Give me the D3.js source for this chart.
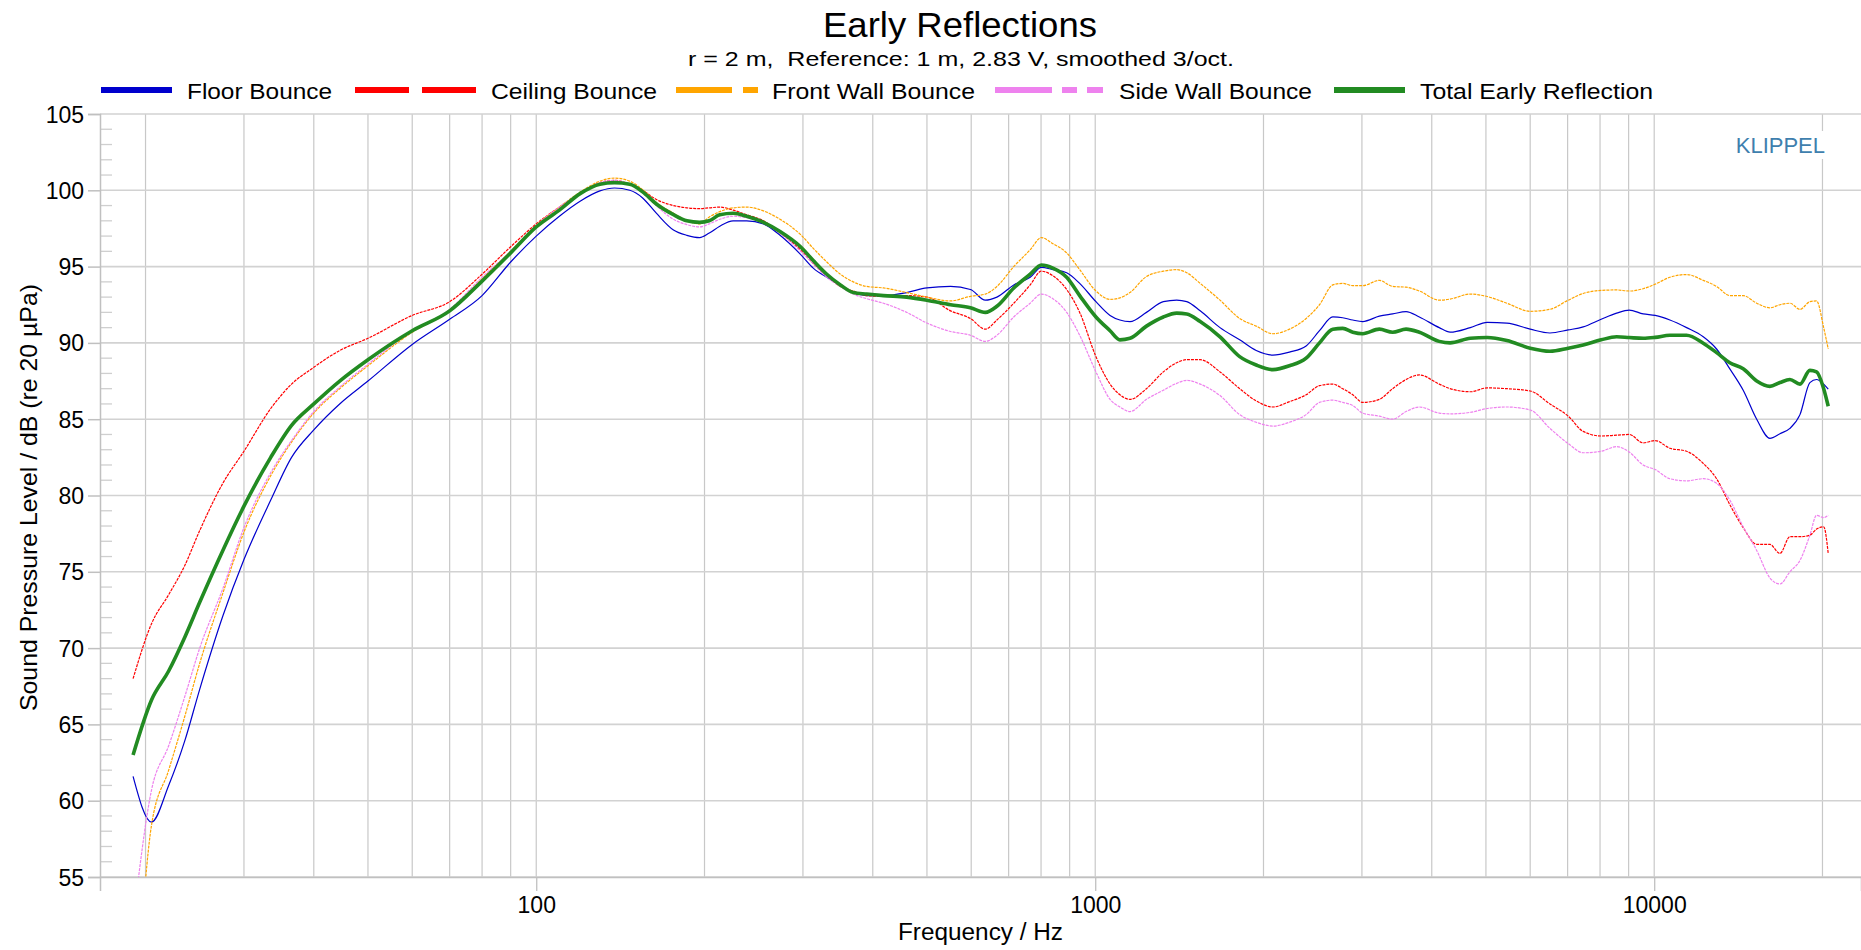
<!DOCTYPE html>
<html><head><meta charset="utf-8">
<script src="https://cdn.jsdelivr.net/npm/d3@7"></script>
<style>
html,body{margin:0;padding:0;background:#fff;}
svg{display:block;}
text{font-family:"Liberation Sans",Arial,Helvetica,sans-serif;fill:#000;}
</style>
</head><body>
<svg id="chart" width="1861" height="950"></svg>
<script>
// ---------- DATA ----------
const frequencies = [
  19, 20.5, 22, 23.5, 25, 27.5, 30, 33.5, 36.5, 40, 44.5, 50, 60, 70, 80, 90, 100,
  110, 120, 130, 138, 147, 155, 164, 176, 186, 196, 204, 213, 225, 238, 255, 273, 297, 313, 331, 350, 369, 390, 418, 460, 500, 551, 598, 636, 667, 715, 765,
  801, 840, 889, 938, 1003, 1063, 1107, 1154, 1235, 1324, 1399, 1458, 1541, 1672, 1813, 1941, 2079, 2226, 2384, 2519, 2661, 2772, 2889, 3010, 3223, 3405, 3598, 3801,
  4125, 4314, 4688, 5026, 5451, 6000, 6508, 7018, 7464, 8038, 8565, 9022, 9557, 10041, 10668, 11428, 12240, 12930, 13655, 14428, 15254, 16106, 16785, 17490, 18230, 18990, 19520, 20100, 20480
];
const floorBounce = [
  61.6, 58.6, 61.0, 63.9, 67.3, 72.1, 75.8, 79.7, 82.5, 84.3, 86.0, 87.5, 89.9, 91.55, 93.1, 95.3, 97.0,
  98.3, 99.3, 99.96, 100.15, 100.0, 99.5, 98.5, 97.4, 97.05, 96.9, 97.2, 97.65, 98.0, 98.0, 97.8, 97.05, 95.8, 94.9, 94.3, 93.8, 93.3, 93.1, 93.1, 93.3, 93.6, 93.7, 93.5, 92.8, 93.0, 93.8, 94.3,
  94.95, 94.8, 94.6, 93.9, 92.7, 91.8, 91.5, 91.4, 92.0, 92.7, 92.8, 92.7, 92.1, 91.0, 90.2, 89.5, 89.2, 89.4, 89.8, 90.8, 91.7, 91.65, 91.5, 91.4, 91.75, 91.9, 92.05, 91.7,
  91.0, 90.7, 91.0, 91.35, 91.3, 90.9, 90.65, 90.85, 91.05, 91.55, 91.95, 92.15, 91.9, 91.8, 91.5, 91.0, 90.4, 89.6, 88.3, 86.9, 85.0, 83.75, 84.05, 84.4, 85.3, 87.4, 87.6, 87.3, 86.97
];
const ceilingBounce = [
  68.0, 71.6, 73.5, 75.4, 77.7, 80.8, 82.9, 85.7, 87.3, 88.4, 89.5, 90.3, 91.8, 92.7, 94.5, 96.3, 97.8,
  98.9, 99.8, 100.5, 100.65, 100.4, 100.0, 99.4, 99.0, 98.85, 98.8, 98.85, 98.9, 98.7, 98.4, 98.0, 97.2, 96.1, 95.2, 94.4, 93.7, 93.4, 93.1, 93.05, 93.1, 93.0, 92.1, 91.6, 90.9, 91.5, 92.6, 93.8,
  94.7, 94.4, 93.5, 92.0, 89.1, 87.3, 86.6, 86.3, 87.0, 88.1, 88.7, 88.9, 88.9, 88.1, 87.0, 86.2, 85.8, 86.15, 86.6, 87.2, 87.3, 87.0, 86.6, 86.1, 86.3, 87.0, 87.6, 87.9,
  87.3, 87.0, 86.8, 87.05, 87.0, 86.85, 86.0, 85.2, 84.2, 83.9, 83.95, 84.0, 83.45, 83.6, 83.1, 82.9, 82.1, 81.1, 79.4, 77.9, 76.8, 76.8, 76.2, 77.3, 77.3, 77.4, 77.8, 77.95, 76.2
];
const frontWallBounce = [
  43.0, 58.4, 62.0, 65.5, 69.0, 73.6, 77.6, 81.3, 83.5, 85.4, 87.0, 88.5, 90.7, 92.1, 94.2, 96.0, 97.7,
  98.9, 99.9, 100.6, 100.8, 100.6, 100.04, 99.2, 98.5, 98.0, 97.8, 98.25, 98.6, 98.85, 98.9, 98.65, 98.1, 97.1, 96.2, 95.3, 94.5, 94.0, 93.7, 93.6, 93.3, 93.0, 92.75, 93.05, 93.2, 93.7, 95.0, 96.1,
  96.9, 96.5, 95.9, 94.8, 93.4, 92.85, 92.95, 93.3, 94.35, 94.7, 94.8, 94.6, 93.9, 92.8, 91.6, 91.1, 90.6, 90.9, 91.6, 92.5, 93.8, 93.9, 93.75, 93.75, 94.1, 93.7, 93.65, 93.4,
  92.8, 92.87, 93.2, 93.04, 92.6, 92.07, 92.2, 92.8, 93.24, 93.44, 93.47, 93.4, 93.55, 93.85, 94.3, 94.48, 94.1, 93.7, 93.1, 93.1, 92.6, 92.3, 92.5, 92.6, 92.2, 92.7, 92.75, 91.0, 89.6
];
const sideWallBounce = [
  52.0, 60.7, 63.6, 66.8, 70.0, 73.9, 77.9, 81.5, 83.6, 85.5, 87.1, 88.6, 90.8, 92.2, 94.3, 96.0, 97.7,
  98.9, 99.8, 100.5, 100.65, 100.4, 99.96, 99.0, 98.1, 97.75, 97.6, 97.8, 98.1, 98.3, 98.2, 97.85, 97.2, 96.0, 95.2, 94.3, 93.7, 93.2, 92.9, 92.6, 92.0, 91.3, 90.75, 90.5, 90.1, 90.5, 91.7, 92.6,
  93.2, 92.9, 92.0, 90.5, 88.1, 86.3, 85.8, 85.5, 86.3, 86.9, 87.35, 87.55, 87.3, 86.55, 85.3, 84.8, 84.55, 84.8, 85.3, 86.1, 86.25, 86.1, 85.9, 85.4, 85.2, 85.0, 85.5, 85.8,
  85.4, 85.35, 85.45, 85.7, 85.8, 85.6, 84.4, 83.4, 82.8, 82.9, 83.2, 82.85, 82.0, 81.7, 81.1, 80.96, 81.1, 80.8, 79.7, 77.95, 76.4, 74.6, 74.2, 75.0, 75.75, 77.4, 78.7, 78.55, 78.7
];
const totalEarlyReflection = [
  63.0, 66.6, 68.5, 70.7, 73.0, 76.4, 79.3, 82.5, 84.6, 86.0, 87.5, 88.9, 90.8, 92.1, 94.05, 95.9, 97.6,
  98.7, 99.8, 100.4, 100.5, 100.4, 99.9, 99.1, 98.4, 98.0, 97.9, 98.0, 98.4, 98.5, 98.3, 97.9, 97.3, 96.3, 95.4, 94.5, 93.8, 93.3, 93.2, 93.1, 93.0, 92.8, 92.5, 92.3, 92.0, 92.4, 93.6, 94.5,
  95.1, 94.9, 94.3, 93.1, 91.7, 90.8, 90.2, 90.3, 91.1, 91.7, 91.95, 91.9, 91.4, 90.4, 89.1, 88.55, 88.25, 88.5, 89.0, 90.0, 90.9, 90.95, 90.7, 90.6, 90.9, 90.7, 90.9, 90.7,
  90.1, 90.0, 90.3, 90.35, 90.15, 89.65, 89.45, 89.65, 89.86, 90.2, 90.4, 90.35, 90.3, 90.36, 90.5, 90.5, 89.98, 89.36, 88.7, 88.3, 87.5, 87.15, 87.4, 87.6, 87.3, 88.2, 88.1, 87.0, 85.85
];
const seriesNames = ["Floor Bounce", "Ceiling Bounce", "Front Wall Bounce", "Side Wall Bounce", "Total Early Reflection"];
const yTickValues = [55, 60, 65, 70, 75, 80, 85, 90, 95, 100, 105];
const xTickLabels = [100, 1000, 10000];
const titleText = "Early Reflections";
const subtitleText = "r = 2 m,  Reference: 1 m, 2.83 V, smoothed 3/oct.";
const xAxisTitle = "Frequency / Hz";
const yAxisTitle = "Sound Pressure Level / dB (re 20 \u00B5Pa)";
const watermark = "KLIPPEL";

// ---------- LAYOUT / STYLE ----------
const W = 1861, H = 950;
const plot = {left: 100, right: 1861, top: 114, bottom: 877};
const svg = d3.select("#chart");

const x = d3.scaleLog().domain([16.58, 23440]).range([plot.left, plot.right]);
const y = d3.scaleLinear().domain([55, 105]).range([plot.bottom, plot.top]);

const styles = [
  {color: "#0000CD", width: 1.2, dash: null},
  {color: "#FF0000", width: 1.2, dash: "3,1"},
  {color: "#FFA500", width: 1.2, dash: "3,1"},
  {color: "#EE82EE", width: 1.2, dash: "3,1"},
  {color: "#228B22", width: 3.6, dash: null}
];
const seriesValues = [floorBounce, ceilingBounce, frontWallBounce, sideWallBounce, totalEarlyReflection];

// grid: vertical
const gridG = svg.append("g");
const vLines = [];
for (const d of [10, 100, 1000, 10000]) for (let m = 1; m <= 9; m++) {
  const f = m * d; if (f > x.domain()[0] && f < x.domain()[1]) vLines.push(f);
}
gridG.selectAll("line.v").data(vLines).join("line")
  .attr("x1", d => x(d)).attr("x2", d => x(d))
  .attr("y1", plot.top).attr("y2", plot.bottom)
  .attr("stroke", "#c8c8c8").attr("stroke-width", 1.2);
// horizontal
gridG.selectAll("line.h").data(yTickValues).join("line")
  .attr("x1", plot.left).attr("x2", plot.right)
  .attr("y1", d => y(d)).attr("y2", d => y(d))
  .attr("stroke", "#d2d2d2").attr("stroke-width", 1.6);
// y minor ticks
const minorY = d3.range(56, 105).filter(v => v % 5 !== 0);
gridG.selectAll("line.m").data(minorY).join("line")
  .attr("x1", plot.left).attr("x2", plot.left + 12)
  .attr("y1", d => y(d)).attr("y2", d => y(d))
  .attr("stroke", "#cfcfcf").attr("stroke-width", 1.3);

// axes with d3
const yAxis = d3.axisLeft(y).tickValues(yTickValues).tickSize(12).tickPadding(4);
const yG = svg.append("g").attr("transform", `translate(${plot.left},0)`).call(yAxis);
yG.select(".domain").attr("stroke", "#c0c0c0").attr("stroke-width", 1.5);
yG.selectAll(".tick line").attr("stroke", "#c0c0c0").attr("stroke-width", 1.5);
yG.selectAll(".tick text").attr("font-size", 23).attr("fill", "#000")
  .attr("font-family", "'Liberation Sans', Arial, sans-serif").attr("dy", "0.35em");

const xAxis = d3.axisBottom(x).tickValues(xTickLabels).tickFormat(d3.format("d")).tickSize(14).tickPadding(6);
const xG = svg.append("g").attr("transform", `translate(0,${plot.bottom})`).call(xAxis);
xG.select(".domain").attr("stroke", "#c0c0c0").attr("stroke-width", 1.5);
xG.selectAll(".tick line").attr("stroke", "#c0c0c0").attr("stroke-width", 1.3);
xG.selectAll(".tick text").attr("font-size", 23).attr("fill", "#000")
  .attr("font-family", "'Liberation Sans', Arial, sans-serif").attr("dy", "0.71em");

// watermark
svg.append("rect").attr("x", 1728).attr("y", 131).attr("width", 102).attr("height", 28).attr("fill", "#fff");
svg.append("text").attr("x", 1825).attr("y", 153).attr("text-anchor", "end")
  .attr("font-size", 22).style("fill", "#3f7fae").text(watermark);

// clip
svg.append("clipPath").attr("id", "clip").append("rect")
  .attr("x", plot.left).attr("y", plot.top).attr("width", plot.right - plot.left).attr("height", plot.bottom - plot.top);

const line = d3.line().curve(d3.curveMonotoneX)
  .x((d, i) => x(frequencies[i])).y(d => y(d));

const linesG = svg.append("g").attr("clip-path", "url(#clip)");
seriesValues.forEach((vals, k) => {
  linesG.append("path").datum(vals)
    .attr("d", line)
    .attr("fill", "none")
    .attr("stroke", styles[k].color)
    .attr("stroke-width", styles[k].width)
    .attr("stroke-dasharray", styles[k].dash)
    .attr("stroke-linejoin", "round");
});

// titles
svg.append("text").attr("x", 960).attr("y", 37).attr("text-anchor", "middle")
  .attr("font-size", 35).attr("textLength", 274).attr("lengthAdjust", "spacingAndGlyphs").text(titleText);
svg.append("text").attr("x", 688).attr("y", 66).style("white-space", "pre")
  .attr("font-size", 21).attr("textLength", 546).attr("lengthAdjust", "spacingAndGlyphs").text(subtitleText);

svg.append("text").attr("x", 898).attr("y", 940)
  .attr("font-size", 23).attr("textLength", 165).attr("lengthAdjust", "spacingAndGlyphs").text(xAxisTitle);
svg.append("text").attr("transform", "translate(37,711) rotate(-90)")
  .attr("font-size", 24).attr("textLength", 427).attr("lengthAdjust", "spacingAndGlyphs").text(yAxisTitle);

// legend
const legendLayout = [
  {x0: 101, segs: [[0, 71]], tx: 187, tw: 145},
  {x0: 355, segs: [[0, 54], [67, 121]], tx: 491, tw: 166},
  {x0: 676, segs: [[0, 56], [67, 82]], tx: 772, tw: 203},
  {x0: 995, segs: [[0, 57], [67, 82], [92, 108]], tx: 1119, tw: 193},
  {x0: 1334, segs: [[0, 71]], tx: 1420, tw: 233}
];
const legG = svg.append("g");
seriesNames.forEach((name, k) => {
  const L = legendLayout[k];
  L.segs.forEach(s => {
    legG.append("line").attr("x1", L.x0 + s[0]).attr("x2", L.x0 + s[1])
      .attr("y1", 90).attr("y2", 90)
      .attr("stroke", styles[k].color).attr("stroke-width", 6);
  });
  legG.append("text").attr("x", L.tx).attr("y", 99).attr("font-size", 22)
    .attr("textLength", L.tw).attr("lengthAdjust", "spacingAndGlyphs").text(name);
});
</script>
</body></html>
